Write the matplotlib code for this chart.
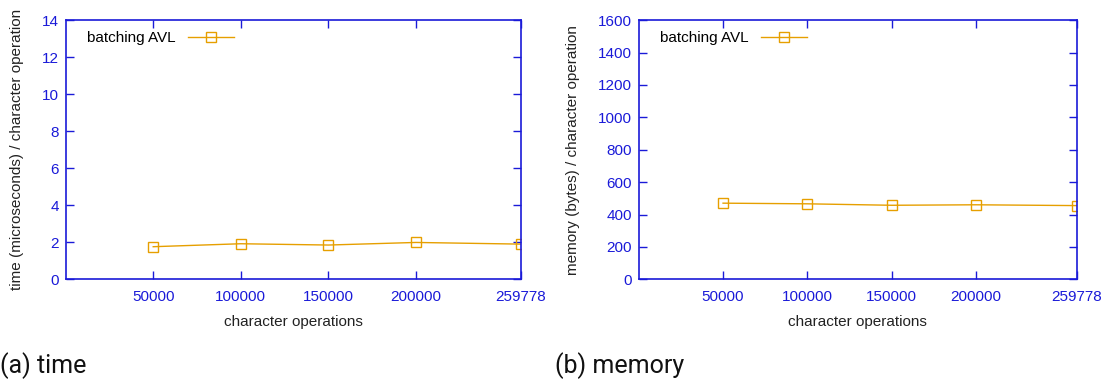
import numpy as np
import matplotlib.pyplot as plt

# dados
ops = [50000, 100000, 150000, 200000, 259778]
tempo = [1.76, 1.92, 1.85, 1.99, 1.90]
memoria = [470, 466, 457, 460, 455]
xticks = [50000, 100000, 150000, 200000, 259778]
yticks_tempo = [0, 2, 4, 6, 8, 10, 12, 14]
yticks_mem = [0, 200, 400, 600, 800, 1000, 1200, 1400, 1600]

AZUL = '#1a1ad8'
LARANJA = '#e69f00'

plt.rcParams['font.family'] = ['Liberation Sans', 'DejaVu Sans']

fig = plt.figure(figsize=(11.07, 3.81), dpi=100)

def painel(pos, y, yticks, ylabel, legend_x):
    ax = fig.add_axes(pos)
    ax.plot(ops, y, color=LARANJA, linewidth=1, marker='s', markersize=7,
            markerfacecolor='none', markeredgecolor=LARANJA, markeredgewidth=1,
            label='batching AVL')
    ax.set_xlim(0, 259778)
    ax.set_ylim(yticks[0], yticks[-1])
    ax.set_xticks(xticks)
    ax.set_xticklabels([str(v) for v in xticks])
    ax.set_yticks(yticks)
    for s in ax.spines.values():
        s.set_color(AZUL)
        s.set_linewidth(1.2)
    ax.tick_params(direction='in', length=6, width=1, color=AZUL,
                   labelcolor=AZUL, labelsize=11, top=True, right=True, pad=5)
    ax.tick_params(axis='x', pad=8)
    ax.set_xlabel('character operations', fontsize=11, color='#222222', labelpad=8)
    ax.set_ylabel(ylabel, fontsize=11, color='#222222', labelpad=13)
    ax.legend(loc='upper left', frameon=False, fontsize=11, markerfirst=False,
              handlelength=3, borderaxespad=0.3, bbox_to_anchor=(legend_x, 1.0))
    return ax

painel([0.0593, 0.267, 0.411, 0.680], tempo, yticks_tempo,
       'time (microseconds) / character operation', 0.024)
painel([0.5770, 0.267, 0.3957, 0.680], memoria, yticks_mem,
       'memory (bytes) / character operation', 0.025)

fig.text(0.0, 0.022, '(a) time', fontsize=18, family='Roboto', color='#111111')
fig.text(0.5015, 0.022, '(b) memory', fontsize=18, family='Roboto', color='#111111')

fig.savefig('out.png', dpi=100)
